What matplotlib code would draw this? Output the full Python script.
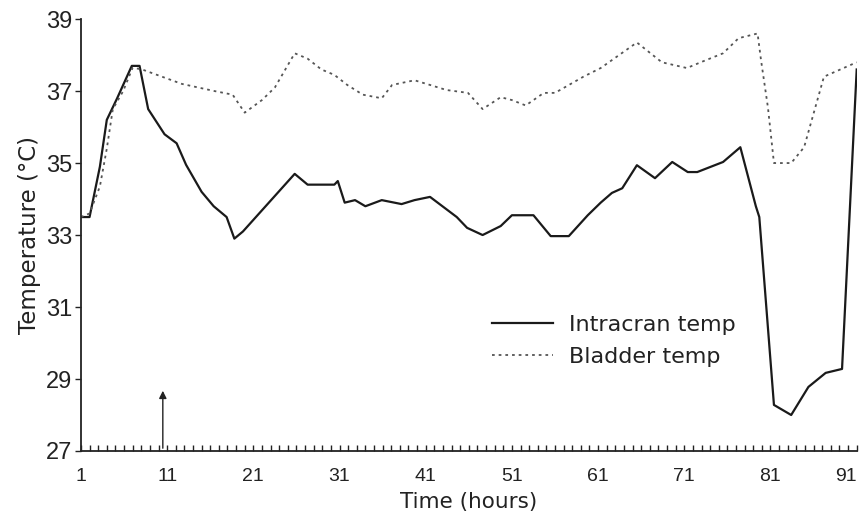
import numpy as np
import matplotlib
matplotlib.use("Agg")
import matplotlib.pyplot as plt
from matplotlib.ticker import MultipleLocator, FixedLocator

# hourly readings, vertices of the traced curves
intracran_hours = [1, 2, 3.2, 4.0, 5.2, 6.9, 7.8, 8.8, 10.7, 12.1, 13.2, 15.0, 16.4, 17.9,
                   18.8, 19.8, 25.8, 27.3, 30.4, 30.8, 31.6, 32.8, 34.0, 35.9, 38.2, 39.7,
                   41.5, 44.6, 45.8, 47.6, 49.7, 51.0, 53.5, 55.5, 57.6, 59.8, 61.3, 62.6,
                   63.8, 65.5, 67.6, 69.6, 71.4, 72.5, 75.5, 77.5, 79.3, 79.7, 81.4, 83.4,
                   85.4, 87.4, 89.3, 91]
intracran_temp = [33.5, 33.5, 34.9, 36.2, 36.8, 37.7, 37.7, 36.5, 35.8, 35.55, 34.95, 34.2,
                  33.8, 33.5, 32.9, 33.1, 34.7, 34.4, 34.4, 34.5, 33.9, 33.97, 33.8, 33.97,
                  33.86, 33.97, 34.06, 33.5, 33.2, 33.0, 33.25, 33.55, 33.55, 32.97, 32.97,
                  33.55, 33.9, 34.17, 34.3, 34.94, 34.58, 35.03, 34.75, 34.75, 35.03, 35.44,
                  33.8, 33.5, 28.28, 28.0, 28.78, 29.17, 29.28, 37.6]

bladder_hours = [1, 2, 3.2, 4.0, 4.7, 5.9, 7.0, 8.1, 12.7, 16.5, 18.6, 20.0, 22.0, 23.5,
                 25.8, 27.3, 28.9, 30.4, 31.9, 33.7, 35.9, 37.1, 39.7, 41.5, 43.4, 45.9,
                 47.6, 49.7, 51.0, 52.6, 54.7, 56.0, 59.3, 61.3, 65.5, 68.4, 71.3, 72.9,
                 75.5, 77.3, 79.5, 79.9, 80.7, 81.4, 83.4, 84.9, 87.2, 89.1, 91]
bladder_temp = [33.5, 33.6, 34.35, 35.4, 36.5, 37.0, 37.65, 37.6, 37.2, 37.0, 36.9, 36.4,
                36.75, 37.1, 38.05, 37.9, 37.6, 37.45, 37.17, 36.9, 36.8, 37.17, 37.3,
                37.17, 37.03, 36.95, 36.5, 36.83, 36.75, 36.6, 36.95, 36.95, 37.4, 37.64,
                38.35, 37.8, 37.64, 37.8, 38.05, 38.47, 38.6, 37.86, 36.55, 35.0, 35.0,
                35.44, 37.4, 37.6, 37.8]

x_ticks = [1, 11, 21, 31, 41, 51, 61, 71, 81, 91]
y_ticks = [27, 29, 31, 33, 35, 37, 39]
arrow_hour = 10.5

ink = '#222222'
digits = ['Liberation Sans', 'DejaVu Sans']
words = ['DejaVu Sans']

fig = plt.figure(figsize=(8.61, 5.16), dpi=100)
ax = fig.add_axes([0.094, 0.126, 0.901, 0.837])

ax.plot(intracran_hours, intracran_temp, color='#1a1a1a', lw=1.6, label='Intracran temp')
ax.plot(bladder_hours, bladder_temp, color='#555555', lw=1.3, linestyle=(0, (1.5, 2.2)),
        label='Bladder temp')

ax.annotate('', xy=(arrow_hour, 28.75), xytext=(arrow_hour, 27.0),
            arrowprops=dict(arrowstyle='-|>', color=ink, lw=1.0, mutation_scale=11))

ax.set_xlim(1, 91)
ax.set_ylim(27, 39)
ax.spines['top'].set_visible(False)
ax.spines['right'].set_visible(False)
for side in ('left', 'bottom'):
    ax.spines[side].set_linewidth(1.3)
    ax.spines[side].set_color(ink)

ax.xaxis.set_major_locator(FixedLocator(x_ticks))
ax.xaxis.set_minor_locator(MultipleLocator(1))
ax.yaxis.set_major_locator(FixedLocator(y_ticks))
ax.tick_params(axis='x', which='both', direction='in', length=4.5, width=1.0,
               pad=12.5, colors=ink)
ax.tick_params(axis='y', direction='out', length=4, width=1.0, pad=2, colors=ink)

ax.set_xticklabels([str(t) for t in x_ticks], family=digits, fontsize=14)
ax.set_yticklabels([str(t) for t in y_ticks], family=digits, fontsize=17)
ax.get_xticklabels()[-1].set_horizontalalignment('right')

ax.set_xlabel('Time (hours)', family=words, fontsize=15.5, labelpad=5, color=ink)
ax.set_ylabel('Temperature (°C)', family=words, fontsize=16.5, labelpad=3.5, color=ink)

ax.legend(loc='upper left', bbox_to_anchor=(0.53, 0.316), frameon=False,
          prop={'family': words, 'size': 16}, borderpad=0, borderaxespad=0,
          handlelength=2.75, handletextpad=0.7, labelspacing=0.57, labelcolor=ink)

fig.savefig('out.png', dpi=100)
